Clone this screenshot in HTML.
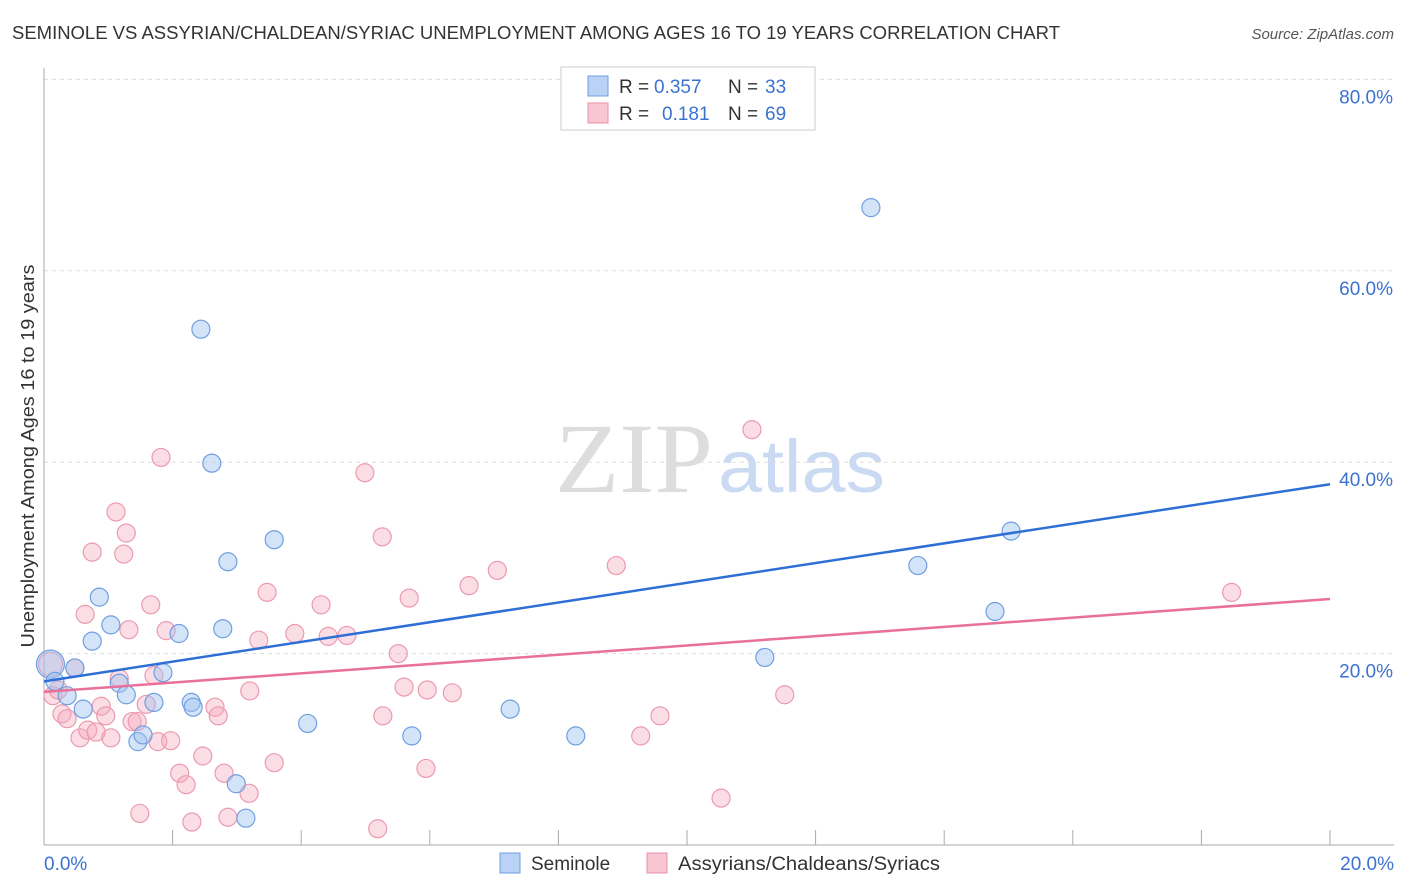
<!DOCTYPE html>
<html><head><meta charset="utf-8"><style>
body{margin:0;background:#fff;font-family:"Liberation Sans",sans-serif;}
svg{display:block}
</style></head><body>
<svg id="chart" width="1406" height="892">
<text x="12" y="39" font-size="18" fill="#333" textLength="1048" lengthAdjust="spacingAndGlyphs">SEMINOLE VS ASSYRIAN/CHALDEAN/SYRIAC UNEMPLOYMENT AMONG AGES 16 TO 19 YEARS CORRELATION CHART</text>
<text x="1394" y="39" font-size="15" fill="#555" text-anchor="end" font-style="italic">Source: ZipAtlas.com</text>
<text x="0" y="0" transform="translate(34,456) rotate(-90)" font-size="18" fill="#333" text-anchor="middle" textLength="383" lengthAdjust="spacingAndGlyphs">Unemployment Among Ages 16 to 19 years</text>
<text x="555" y="492" font-size="100" fill="#ddd" textLength="158" lengthAdjust="spacingAndGlyphs" font-family="Liberation Serif,serif">ZIP</text>
<text x="718" y="492" font-size="74" fill="#c9daf2" textLength="167" lengthAdjust="spacingAndGlyphs">atlas</text>
<g id="grid"></g><g id="pts"></g><g id="lines"></g>
<g>
<rect x="561" y="67" width="254" height="63" fill="#fff" stroke="#ccc"/>
<rect x="588" y="76" width="20" height="20" fill="#b9d2f5" stroke="#6f9fe0"/>
<text x="619" y="93" font-size="19" fill="#333">R =</text>
<text x="654" y="93" font-size="19" fill="#3b72d0">0.357</text>
<text x="728" y="93" font-size="19" fill="#333">N =</text>
<text x="765" y="93" font-size="19" fill="#3b72d0">33</text>
<rect x="588" y="103" width="20" height="20" fill="#f8c6d3" stroke="#e890a8"/>
<text x="619" y="120" font-size="19" fill="#333">R =</text>
<text x="662" y="120" font-size="19" fill="#3b72d0">0.181</text>
<text x="728" y="120" font-size="19" fill="#333">N =</text>
<text x="765" y="120" font-size="19" fill="#3b72d0">69</text>
</g>
<g>
<rect x="500" y="853" width="20" height="20" fill="#b9d2f5" stroke="#6f9fe0"/>
<text x="531" y="870" font-size="19" fill="#333">Seminole</text>
<rect x="647" y="853" width="20" height="20" fill="#f8c6d3" stroke="#e890a8"/>
<text x="678" y="870" font-size="19" fill="#333" textLength="262" lengthAdjust="spacingAndGlyphs">Assyrians/Chaldeans/Syriacs</text>
</g>
</svg>
<script>
const yTicks=[20,40,60,80];
const xTickLabels=["0.0%","20.0%"];
const blueX=[0.1,0.17,0.36,0.48,0.61,0.75,0.86,1.04,1.17,1.28,1.46,1.54,1.71,1.85,2.1,2.29,2.32,2.44,2.61,2.78,2.86,2.99,3.14,3.58,4.1,5.72,7.25,8.27,11.21,12.86,13.59,14.79,15.04];
const blueY=[18.9,17.1,15.6,18.5,14.2,21.3,25.9,23,16.9,15.7,10.8,11.5,14.9,18,22.1,14.9,14.4,53.9,39.9,22.6,29.6,6.4,2.8,31.9,12.7,11.4,14.2,11.4,19.6,66.6,29.2,24.4,32.8];
const pinkX=[0.1,0.14,0.22,0.28,0.36,0.48,0.56,0.64,0.68,0.75,0.81,0.89,0.96,1.04,1.12,1.17,1.24,1.28,1.32,1.37,1.45,1.49,1.59,1.66,1.71,1.77,1.82,1.9,1.97,2.11,2.21,2.3,2.47,2.66,2.71,2.8,2.86,3.19,3.2,3.34,3.47,3.58,3.9,4.31,4.42,4.71,4.99,5.19,5.26,5.27,5.51,5.6,5.68,5.94,5.96,6.35,6.61,7.05,8.9,9.28,9.58,10.53,11.01,11.52,18.47];
const pinkY=[18.9,15.6,16.2,13.7,13.2,18.5,11.2,24.1,12,30.6,11.8,14.5,13.5,11.2,34.8,17.4,30.4,32.6,22.5,12.9,12.9,3.3,14.7,25.1,17.7,10.8,40.5,22.4,10.9,7.5,6.3,2.4,9.3,14.4,13.5,7.5,2.9,5.4,16.1,21.4,26.4,8.6,22.1,25.1,21.8,21.9,38.9,1.7,32.2,13.5,20,16.5,25.8,8,16.2,15.9,27.1,28.7,29.2,11.4,13.5,4.9,43.4,15.7,26.4];
const blueLine=[17.1,37.7], pinkLine=[16,25.7];
const X=v=>44+v*64.3, Y=v=>845-v*9.57;
const NS="http://www.w3.org/2000/svg";
function mk(t,a,p){const e=document.createElementNS(NS,t);for(const k in a)e.setAttribute(k,a[k]);p.appendChild(e);return e;}
const g=document.getElementById('grid');
yTicks.forEach(v=>{
 const l=mk('line',{x1:44,x2:1394,y1:Y(v),y2:Y(v),stroke:'#ddd','stroke-dasharray':'4,4'},g);
 
 
 const t=mk('text',{x:1393,y:Y(v)+24,'font-size':19,fill:'#3b72d0','text-anchor':'end'},g);t.textContent=v.toFixed(1)+'%';
 
 
});
const ax=mk('line',{x1:44,x2:44,y1:68,y2:845,stroke:'#aaa'},g);


const bx=mk('line',{x1:44,x2:1394,y1:845,y2:845,stroke:'#aaa'},g);


for(let i=1;i<=10;i++){const t=mk('line',{x1:X(i*2),x2:X(i*2),y1:830,y2:845,stroke:'#aaa'},g);
 
 }
xTickLabels.forEach((s,i)=>{const t=mk('text',{x:i?1394:44,y:870,'font-size':19,fill:'#3b72d0','text-anchor':i?'end':'start'},g);t.textContent=s;
 
 });
const p=document.getElementById('pts');
pinkX.forEach((x,i)=>{const c=mk('circle',{cx:X(x),cy:Y(pinkY[i]),r:i==0?12:9,fill:'rgba(245,170,190,0.4)',stroke:'#ec9ab0','stroke-width':1.2},p);
 
 });
blueX.forEach((x,i)=>{const c=mk('circle',{cx:X(x),cy:Y(blueY[i]),r:i==0?14:9,fill:'rgba(160,195,240,0.45)',stroke:'#6f9fe0','stroke-width':1.2},p);
 
 });
const L=document.getElementById('lines');
const b=mk('line',{x1:X(0),y1:Y(blueLine[0]),x2:X(20),y2:Y(blueLine[1]),stroke:'#2e6fd6','stroke-width':2.5},L);


const q=mk('line',{x1:X(0),y1:Y(pinkLine[0]),x2:X(20),y2:Y(pinkLine[1]),stroke:'#e8709a','stroke-width':2.5},L);


</script>
</body></html>
